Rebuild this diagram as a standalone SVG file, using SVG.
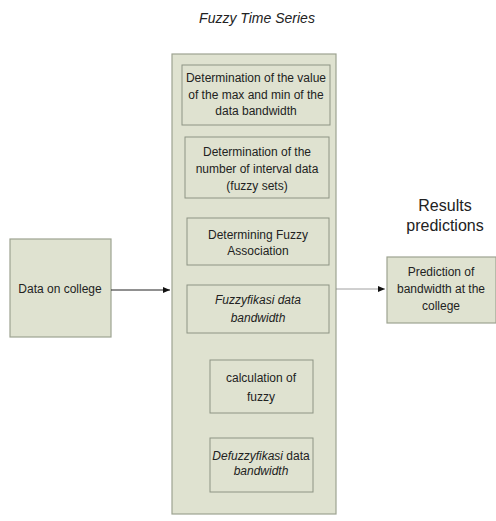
<svg xmlns="http://www.w3.org/2000/svg" width="496" height="521" viewBox="0 0 496 521">
<style>
.bx{fill:#dfe2d0;stroke:#9da391;stroke-width:1.2}
.ib{fill:#dfe2d0;stroke:#8e9484;stroke-width:1}
text{font-family:"Liberation Sans",Arial,sans-serif;font-size:12px;fill:#222;text-anchor:middle;dominant-baseline:central}
.it{font-style:italic}
</style>
<defs>
<marker id="ah" markerWidth="8" markerHeight="8" refX="7" refY="4" orient="auto" markerUnits="userSpaceOnUse">
<path d="M0,1 L7,4 L0,7 Z" fill="#111"/>
</marker>
</defs>
<rect width="496" height="521" fill="#fff"/>
<text x="257" y="18" class="it" font-size="14" style="font-size:14px">Fuzzy Time Series</text>
<g id="fts">
<rect class="bx" x="172" y="54" width="164" height="460"/>
</g>
<g id="step1">
<rect class="ib" x="182" y="65" width="148" height="60"/>
<text x="256" y="78">Determination of the value</text>
<text x="256" y="95">of the max and min of the</text>
<text x="256" y="111">data bandwidth</text>
</g>
<g id="step2">
<rect class="ib" x="185" y="137" width="144" height="61"/>
<text x="257" y="152">Determination of the</text>
<text x="257" y="169">number of interval data</text>
<text x="257" y="186">(fuzzy sets)</text>
</g>
<g id="step3">
<rect class="ib" x="187" y="218" width="142" height="47"/>
<text x="258" y="235">Determining Fuzzy</text>
<text x="258" y="251">Association</text>
</g>
<g id="step4">
<rect class="ib" x="187" y="285" width="142" height="48"/>
<text x="258" y="300" class="it">Fuzzyfikasi data</text>
<text x="258" y="318" class="it">bandwidth</text>
</g>
<g id="step5">
<rect class="ib" x="210" y="360" width="103" height="53"/>
<text x="261" y="378">calculation of</text>
<text x="261" y="397">fuzzy</text>
</g>
<g id="step6">
<rect class="ib" x="210" y="438" width="103" height="54"/>
<text x="261" y="456"><tspan class="it">Defuzzyfikasi</tspan> data</text>
<text x="261" y="471" class="it">bandwidth</text>
</g>
<g id="input">
<rect class="bx" x="10" y="239" width="101" height="98"/>
<text x="60" y="289">Data on college</text>
</g>
<g id="output">
<text x="445" y="205" style="font-size:16px">Results</text>
<text x="445" y="225" style="font-size:16px">predictions</text>
<rect class="bx" x="387" y="257" width="109" height="66"/>
<text x="441" y="272">Prediction of</text>
<text x="441" y="289">bandwidth at the</text>
<text x="441" y="306">college</text>
</g>
<g id="connectors">
<line x1="111" y1="290" x2="170" y2="290" stroke="#222" stroke-width="1" marker-end="url(#ah)"/>
<line x1="336" y1="289" x2="385" y2="289" stroke="#888" stroke-width="0.8" marker-end="url(#ah)"/>
</g>
</svg>
